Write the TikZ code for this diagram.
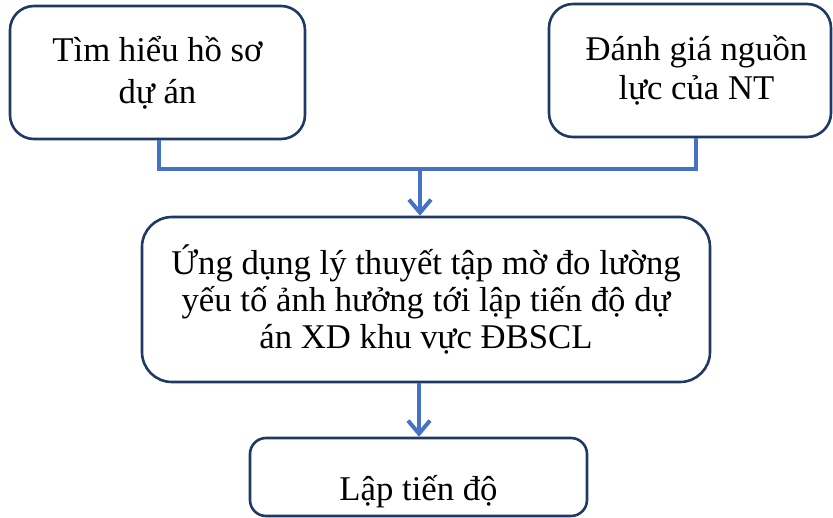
\documentclass[tikz,border=0pt]{standalone}
\usepackage{fontspec}
\setmainfont{Liberation Serif}
\usetikzlibrary{arrows.meta}
\definecolor{boxline}{HTML}{203864}
\definecolor{linkblue}{HTML}{4472C4}
\tikzset{
  stagebox/.style={draw=boxline, line width=2.6pt, rounded corners=24pt,
    align=center, inner sep=0pt, font=\fontsize{34.7}{41}\selectfont},
  link/.style={draw=linkblue, line width=4pt},
  linkarrow/.style={link, -{Straight Barb[length=13pt,width=22pt,line width=4pt]}}
}
\begin{document}
\begin{tikzpicture}[x=1pt,y=-1pt]
\useasboundingbox (0,0) rectangle (833,517);
% input boxes
\node[stagebox, minimum width=295pt, minimum height=133pt,
  font=\fontsize{34.7}{42}\selectfont] (tl) at (157.5,72.5)
  {Tìm hiểu hồ sơ\\dự án};
\node[stagebox, minimum width=282pt, minimum height=133pt,
  font=\fontsize{34.7}{39}\selectfont] (tr) at (690,70.5)
  {\hspace*{13pt}Đánh giá nguồn\\\hspace*{13pt}lực của NT};
% main step
\node[stagebox, rounded corners=30pt, minimum width=568pt, minimum height=165pt,
  font=\fontsize{34.7}{37}\selectfont] (mid) at (426,299.5)
  {Ứng dụng lý thuyết tập mờ đo lường\\yếu tố ảnh hưởng tới lập tiến độ dự\\án XD khu vực ĐBSCL};
% output: text sits low in the box
\node[stagebox, rounded corners=16pt, minimum width=337pt, minimum height=78pt,
  text height=46pt, text depth=0pt] (bot) at (418.5,477)
  {Lập tiến độ};
% connectors
\coordinate (j) at (420,169);
\draw[link] ([xshift=1.5pt]tl.south) |- (j) -| ([xshift=6pt]tr.south);
\draw[linkarrow] (j) -- (j |- mid.north);
\draw[linkarrow] ([xshift=0.5pt]bot.north |- mid.south) -- ([xshift=0.5pt]bot.north);
\end{tikzpicture}
\end{document}
